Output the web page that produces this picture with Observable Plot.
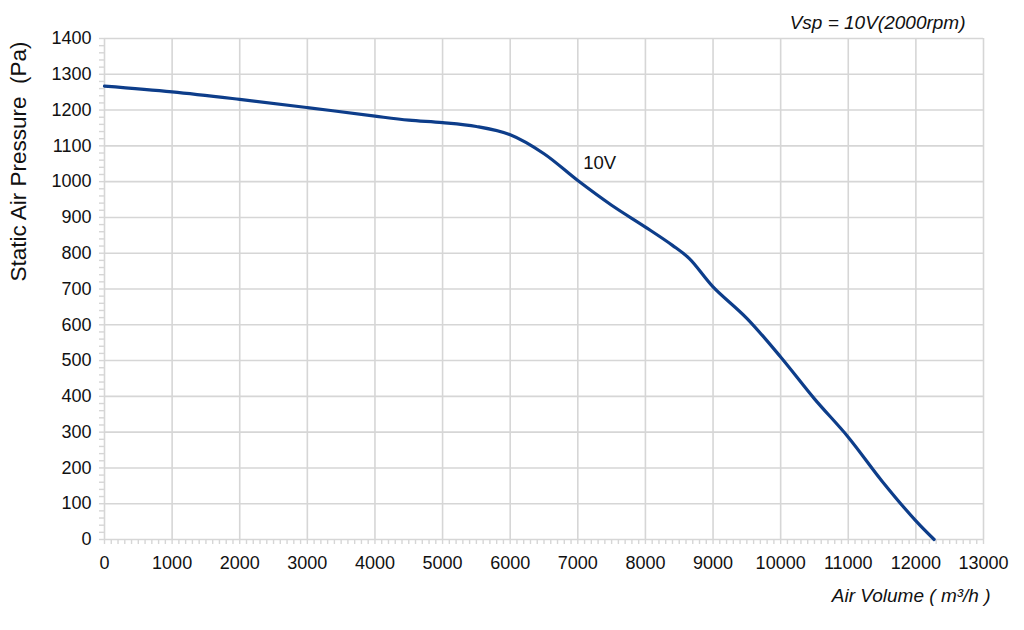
<!DOCTYPE html>
<html>
<head>
<meta charset="utf-8">
<script src="https://cdn.jsdelivr.net/npm/d3@7"></script>
<script src="https://cdn.jsdelivr.net/npm/@observablehq/plot@0.6"></script>
<style>
  html, body { margin: 0; padding: 0; background: #fff; }
  svg { display: block; }
</style>
</head>
<body>
<div id="chart"></div>
<script>
const airVolume = [0, 1000, 2000, 3000, 4000, 4500, 5000, 5500, 6000, 6500, 7000, 7500, 8000, 8400, 8650, 9000, 9500, 10000, 10500, 11000, 11500, 12000, 12270];
const pressure  = [1267, 1251, 1230, 1207, 1183, 1172, 1165, 1154, 1131, 1078, 1003, 934, 873, 822, 785, 706, 618, 510, 393, 286, 163, 52, 0];
const xTicks = d3.range(0, 13001, 1000);
const yTicks = d3.range(0, 1401, 100);
const xMinor = d3.range(0, 13001, 100);
const yMinor = d3.range(0, 1401, 20);
const curveLabel = "10V";
const xTitle = "Air Volume ( m³/h )";
const yTitle = "Static Air Pressure\u00a0\u00a0(Pa)";
const topNote = "Vsp = 10V(2000rpm)";

const data = airVolume.map((v, i) => ({x: v, y: pressure[i]}));
const gridColor = "#d6d6d6";

const chart = Plot.plot({
  width: 1024,
  height: 630,
  marginLeft: 104,
  marginRight: 41,
  marginTop: 38,
  marginBottom: 91,
  style: {fontFamily: "'Liberation Sans', Arial, sans-serif", fontSize: "18px", color: "#111", background: "#fff"},
  x: {domain: [0, 13000]},
  y: {domain: [0, 1400]},
  marks: [
    Plot.ruleX(xTicks, {stroke: gridColor, strokeWidth: 1.6}),
    Plot.ruleY(yTicks, {stroke: gridColor, strokeWidth: 1.6}),
    Plot.axisX(xMinor, {tickSize: 5, tickFormat: () => "", label: null, stroke: gridColor, strokeWidth: 1.4}),
    Plot.axisY(yMinor, {tickSize: 5, tickFormat: () => "", label: null, stroke: gridColor, strokeWidth: 1.4}),
    Plot.axisX(xTicks, {tickSize: 0, tickPadding: 17, tickFormat: d => String(d), label: null, fontSize: 18, fill: "#111"}),
    Plot.axisY(yTicks, {tickSize: 0, tickPadding: 13, tickFormat: d => String(d), label: null, fontSize: 18, fill: "#111"}),
    Plot.line(data, {x: "x", y: "y", stroke: "#0d3d8a", strokeWidth: 3.2, curve: "catmull-rom"}),
    Plot.text([curveLabel], {x: 7080, y: 1051, text: d => d, textAnchor: "start", fontSize: 18.5, fill: "#111"}),
    Plot.text([yTitle], {frameAnchor: "top-left", dx: -94, dy: 123, rotate: -90, text: d => d, textAnchor: "middle", lineAnchor: "top", fontSize: 22.5, fill: "#111"}),
    Plot.text([xTitle], {frameAnchor: "bottom-right", dx: 7, dy: 62, text: d => d, textAnchor: "end", fontSize: 19, fontStyle: "italic", fill: "#111"}),
    Plot.text([topNote], {frameAnchor: "top-right", dx: -18, dy: -23, text: d => d, textAnchor: "end", fontSize: 19, fontStyle: "italic", fill: "#111"})
  ]
});
document.getElementById("chart").appendChild(chart);
</script>
</body>
</html>
